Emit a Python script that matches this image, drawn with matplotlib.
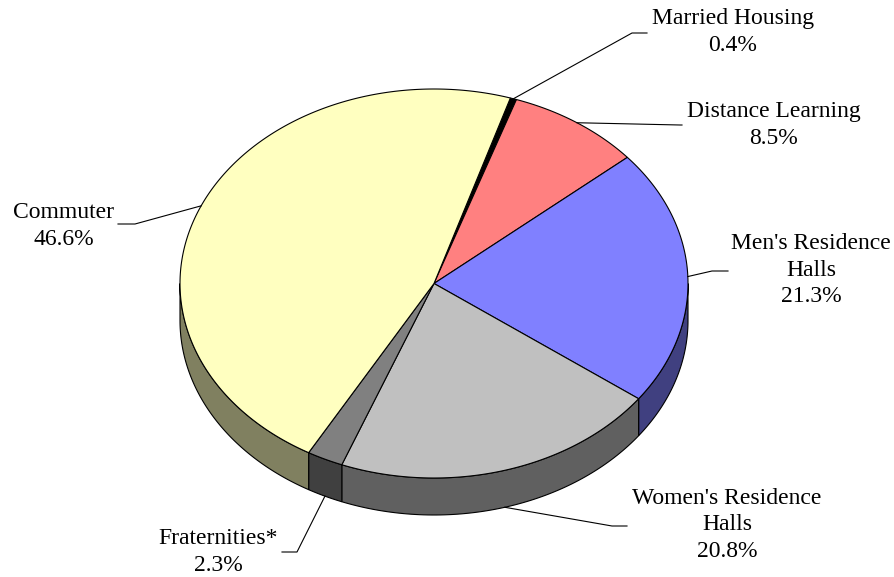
import numpy as np
import matplotlib.pyplot as plt
from matplotlib.patches import Polygon

# dados do grafico (sentido horario a partir do topo)
categorias = ["Married Housing", "Distance Learning", "Men's Residence\nHalls",
              "Women's Residence\nHalls", "Fraternities*", "Commuter"]
valores = [0.4, 8.5, 21.3, 20.8, 2.3, 46.6]
cores_topo = ["#000000", "#FF8080", "#8080FF", "#C0C0C0", "#808080", "#FFFFC0"]
cores_lado = ["#000000", "#804040", "#404080", "#606060", "#404040", "#808060"]

# posicao dos rotulos (centro do texto) e fim da linha guia
pos_rotulos = [(733, 32), (774, 125), (811, 270), (727, 525), (218, 552), (64, 226)]
fim_linha = [(632, 33, 647), (680, 125, 682), (712, 271, 728),
             (612, 526, 627), (297, 552, 282), (135, 224, 118)]

cx, cy, rx, ry, prof = 434, 283.5, 254, 194.5, 37
inicio = 72.5

plt.rcParams['font.family'] = ['Liberation Serif', 'DejaVu Serif']
fig = plt.figure(figsize=(8.95, 5.77), dpi=100)
ax = fig.add_axes([0, 0, 1, 1])
ax.set_xlim(0, 895)
ax.set_ylim(577, 0)
ax.axis('off')


def borda(t, desc=0.0):
    t = np.radians(t)
    return cx + rx * np.cos(t), cy - ry * np.sin(t) + desc


total = sum(valores)
angulos = [inicio]
for v in valores:
    angulos.append(angulos[-1] - v / total * 360)

# lados (so a metade da frente aparece: -180 a 0, mais multiplos de 360)
for i in range(len(valores)):
    a1, a2 = angulos[i + 1], angulos[i]
    for k in (-1, 0, 1):
        lo = max(a1, -180 + 360 * k)
        hi = min(a2, 360 * k)
        if hi <= lo:
            continue
        t = np.linspace(lo, hi, 80)
        x1, y1 = borda(t)
        x2, y2 = borda(t[::-1], prof)
        pts = np.column_stack([np.r_[x1, x2], np.r_[y1, y2]])
        ax.add_patch(Polygon(pts, closed=True, facecolor=cores_lado[i],
                             edgecolor='black', linewidth=0.8))

# topo
for i in range(len(valores)):
    t = np.linspace(angulos[i + 1], angulos[i], 200)
    x, y = borda(t)
    pts = np.column_stack([np.r_[cx, x], np.r_[cy, y]])
    ax.add_patch(Polygon(pts, closed=True, facecolor=cores_topo[i],
                         edgecolor='black', linewidth=0.8))

# rotulos e linhas guia
for i in range(len(valores)):
    meio = (angulos[i] + angulos[i + 1]) / 2
    desc = prof if np.sin(np.radians(meio)) < -0.5 else 0
    x0, y0 = borda(meio, desc)
    xq, yq, xf = fim_linha[i]
    ax.plot([x0, xq, xf], [y0, yq, yq], color='black', linewidth=0.8)
    tx, ty = pos_rotulos[i]
    ax.text(tx, ty, f"{categorias[i]}\n{valores[i]:.1f}%", ha='center', va='center',
            fontsize=17, linespacing=1.35)

fig.savefig("out.png", dpi=100)
